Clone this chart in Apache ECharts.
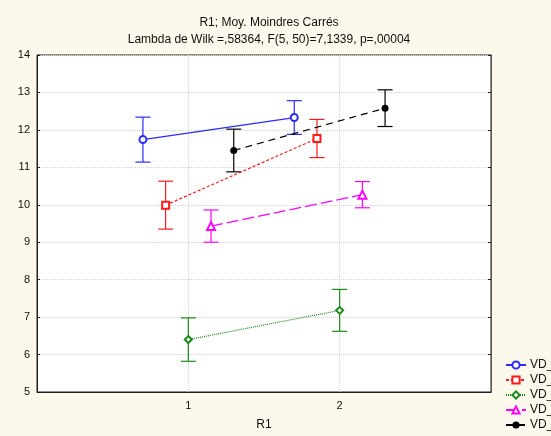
<!DOCTYPE html>
<html><head><meta charset="utf-8">
<script src="https://cdn.jsdelivr.net/npm/echarts@6/dist/echarts.min.js"></script>
<style>html,body{margin:0;padding:0;background:#fdf8ec;}#c{width:551px;height:436px;}</style>
</head><body><div id="c"></div>
<script>
const categories = [1, 2];
const seriesNames = ['VD_1', 'VD_2', 'VD_3', 'VD_4', 'VD_5'];
const means_VD1 = [11.74, 12.33];
const means_VD2 = [9.99, 11.77];
const means_VD3 = [6.40, 7.18];
const means_VD4 = [9.43, 10.27];
const means_VD5 = [11.45, 12.58];
const err_VD1 = [0.60, 0.45];
const err_VD2 = [0.64, 0.51];
const err_VD3 = [0.58, 0.56];
const err_VD4 = [0.43, 0.35];
const err_VD5 = [0.57, 0.49];
const yTicks = [5, 6, 7, 8, 9, 10, 11, 12, 13, 14];
const xTickLabels = ['1', '2'];

const means = [means_VD1, means_VD2, means_VD3, means_VD4, means_VD5];
const errs = [err_VD1, err_VD2, err_VD3, err_VD4, err_VD5];
const offsets = [-0.3, -0.15, 0, 0.15, 0.3];
const colors = ['#2a2aff', '#ff1a1a', '#1a8a1a', '#ff00ff', '#000000'];
const symbols = ['emptyCircle', 'emptyRect', 'emptyDiamond', 'emptyTriangle', 'circle'];
const symSizes = [7, 7, 7, 8, 7];
const lineTypes = ['solid', [3, 2], [1, 1], [12, 4], [7, 5]];

const series = [];
seriesNames.forEach((name, i) => {
  const pts = categories.map((c, j) => [c + offsets[i], means[i][j]]);
  const errData = categories.map((c, j) => [c + offsets[i], means[i][j] - errs[i][j], means[i][j] + errs[i][j]]);
  series.push({
    type: 'custom', name: name + '_err', silent: true, z: 2,
    data: errData,
    renderItem: function (params, api) {
      const x = api.value(0);
      const lo = api.coord([x, api.value(1)]);
      const hi = api.coord([x, api.value(2)]);
      const hw = 7.5;
      const st = { stroke: colors[i], lineWidth: 1.2 };
      return { type: 'group', children: [
        { type: 'line', shape: { x1: lo[0], y1: lo[1], x2: hi[0], y2: hi[1] }, style: st },
        { type: 'line', shape: { x1: lo[0] - hw, y1: lo[1], x2: lo[0] + hw, y2: lo[1] }, style: st },
        { type: 'line', shape: { x1: hi[0] - hw, y1: hi[1], x2: hi[0] + hw, y2: hi[1] }, style: st }
      ]};
    }
  });
  series.push({
    type: 'line', name: name, data: pts, z: 3,
    symbol: symbols[i], symbolSize: symSizes[i], showSymbol: true,
    itemStyle: { color: colors[i], borderWidth: 1.2 },
    lineStyle: { color: colors[i], width: 1.2, type: lineTypes[i] },
    color: colors[i]
  });
});

const chart = echarts.init(document.getElementById('c'));
chart.setOption({
  backgroundColor: '#fdf8ec',
  animation: false,
  textStyle: { fontFamily: 'Liberation Sans, Arial, sans-serif' },
  title: {
    text: 'R1; Moy. Moindres Carrés\nLambda de Wilk =,58364, F(5, 50)=7,1339, p=,00004',
    left: 264, top: 9, textAlign: 'center',
    textStyle: { fontSize: 12, fontWeight: 'normal', color: '#111', lineHeight: 17, fontFamily: 'Liberation Sans, Arial, sans-serif' }
  },
  legend: {
    orient: 'vertical', left: 500, top: 354, itemGap: 3, itemWidth: 20, itemHeight: 9,
    data: seriesNames,
    textStyle: { fontSize: 12, color: '#111', padding: [0, 0, 0, -1] }
  },
  grid: { left: 37, right: 60, top: 55, bottom: 38, show: true, backgroundColor: '#ffffff', borderColor: '#222', borderWidth: 1 },
  xAxis: {
    type: 'value', min: 0, max: 3, interval: 1,
    name: 'R1', nameLocation: 'middle', nameGap: 27,
    nameTextStyle: { fontSize: 12, color: '#111' },
    axisLine: { show: true, lineStyle: { color: '#222' } },
    axisTick: { show: false },
    axisLabel: { fontSize: 11, color: '#111', margin: 8,
      formatter: v => (xTickLabels.indexOf(String(v)) >= 0 ? String(v) : '') },
    splitLine: { show: true, lineStyle: { color: '#d2d2d2', type: 'dotted', width: 1 } }
  },
  yAxis: [{
    type: 'value', min: yTicks[0], max: yTicks[yTicks.length - 1], interval: 1,
    axisLine: { show: true, lineStyle: { color: '#222' } },
    axisTick: { show: true, inside: true, length: 3, lineStyle: { color: '#222' } },
    axisLabel: { fontSize: 11, color: '#111', margin: 7 },
    splitLine: { show: true, lineStyle: { color: '#d2d2d2', type: 'dotted', width: 1 } }
  }, {
    type: 'value', position: 'right', min: yTicks[0], max: yTicks[yTicks.length - 1], interval: 1,
    axisLine: { show: true, lineStyle: { color: '#555' } },
    axisTick: { show: true, inside: true, length: 3, lineStyle: { color: '#222' } },
    axisLabel: { show: false }, splitLine: { show: false }
  }],
  series: series
});
</script></body></html>
